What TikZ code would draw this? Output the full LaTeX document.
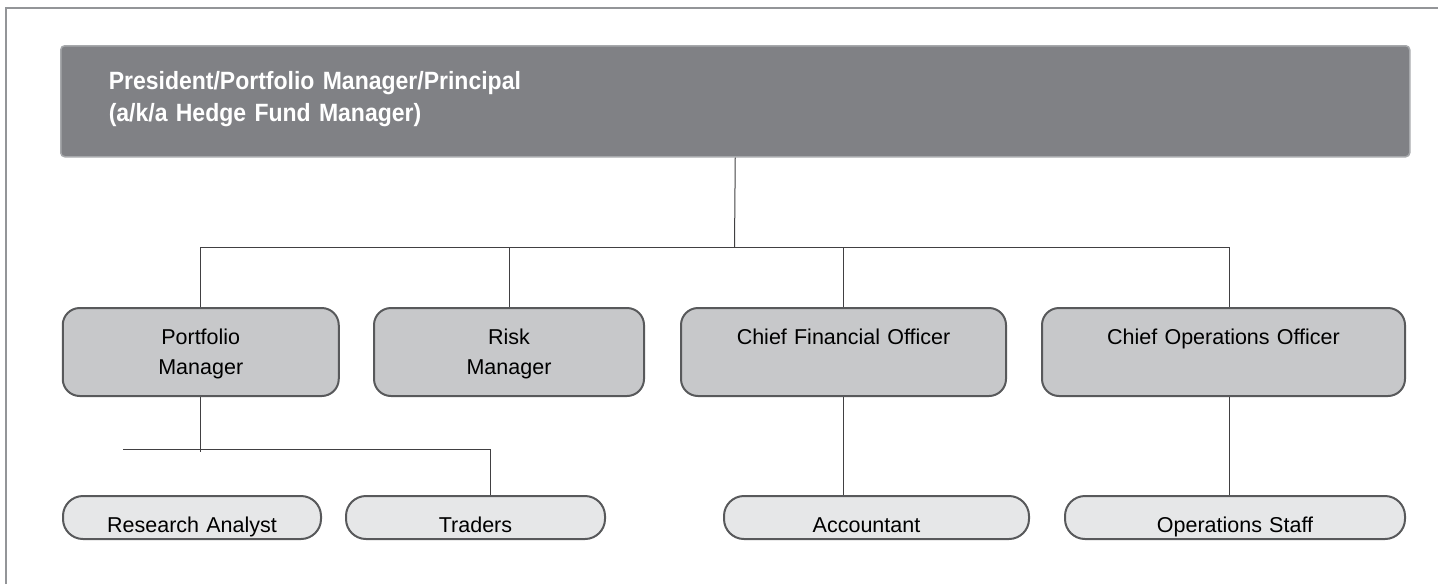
\documentclass[tikz,border=0pt]{standalone}
\usepackage{fontspec}
\setmainfont{Liberation Sans}
\newfontfamily\headfont{Liberation Sans}[FakeStretch=0.92]
\usetikzlibrary{positioning}
\definecolor{head_grey}{RGB}{128, 129, 133}
\definecolor{head_rim}{RGB}{167, 169, 172}
\definecolor{mid_grey}{RGB}{199, 200, 202}
\definecolor{pale_grey}{RGB}{230, 231, 232}
\definecolor{rim_grey}{RGB}{88, 89, 91}
\definecolor{line_grey}{RGB}{65, 64, 66}
\definecolor{frame_grey}{RGB}{147, 149, 152}

\tikzset{
	headbox/.style={draw=head_rim, line width=1.5pt, fill=head_grey, rounded corners=4pt, anchor=north west,
		inner xsep=48pt, inner ysep=0pt, text width=1253pt, align=left, text height=44pt, text depth=67pt,
		text=white, font=\headfont\bfseries\fontsize{25}{32}\selectfont},
	officebox/.style={draw=rim_grey, line width=2pt, fill=mid_grey, rounded corners=17pt, anchor=base,
		inner sep=0pt, align=center, text height=36pt, text depth=52pt, font=\fontsize{21.5}{30}\selectfont},
	staffbox/.style={draw=rim_grey, line width=2pt, fill=pale_grey, rounded corners=20pt, anchor=base,
		inner sep=0pt, align=center, text height=36pt, text depth=7pt, font=\fontsize{21.5}{26}\selectfont},
	conn/.style={draw=line_grey, line width=1pt}
}

\begin{document}
\begin{tikzpicture}[x=1pt, y=-1pt]
				\useasboundingbox (0,0) rectangle (1438,584);
				% page frame
				\draw[frame_grey, line width=1.5pt] (6,584) -- (6,8) -- (1438,8);
				
				% top of the chart
				\node[headbox] (pres) at (60,45) {President/Portfolio Manager/Principal\\(a/k/a Hedge Fund Manager)};
				
				% officers
				\node[officebox, text width=276pt] (pm) at (200.75,344) {Portfolio\\Manager};
				\node[officebox, text width=270pt] (rm) at (509,344) {Risk\\Manager};
				\node[officebox, text width=325pt] (cfo) at (843.5,344) {Chief Financial Officer};
				\node[officebox, text width=363pt] (coo) at (1223.5,344) {Chief Operations Officer};
				
				% staff
				\node[staffbox, text width=258pt] (ra) at (192,532) {Research Analyst};
				\node[staffbox, text width=259pt] (trd) at (475.5,532) {Traders};
				\node[staffbox, text width=305pt] (acct) at (876.5,532) {\hspace*{-20pt}Accountant};
				\node[staffbox, text width=340pt] (ops) at (1235,532) {Operations Staff};
				
				% lines from the top box
				\coordinate (bus) at (734.5,247);
				\coordinate (cooin) at ([xshift=5.5pt]coo.north);
				\coordinate (cooout) at ([xshift=5.5pt]coo.south);
				\draw[conn] (pres.south) -- (bus);
				\draw[conn] (pm.north) -- (pm.north |- bus) -- (cooin |- bus) -- (cooin);
				\draw[conn] (rm.north) -- (rm.north |- bus);
				\draw[conn] (cfo.north) -- (cfo.north |- bus);
				
				% lines to the staff
				\coordinate (split) at (123,449);
				\draw[conn] (pm.south) -- ([yshift=-3pt]pm.south |- split);
				\draw[conn] (split) -| ([xshift=14.5pt]trd.north);
				\draw[conn] (cfo.south) -- (cfo.south |- acct.north);
				\draw[conn] (cooout) -- (cooout |- ops.north);
				
				\end{tikzpicture}
\end{document}
